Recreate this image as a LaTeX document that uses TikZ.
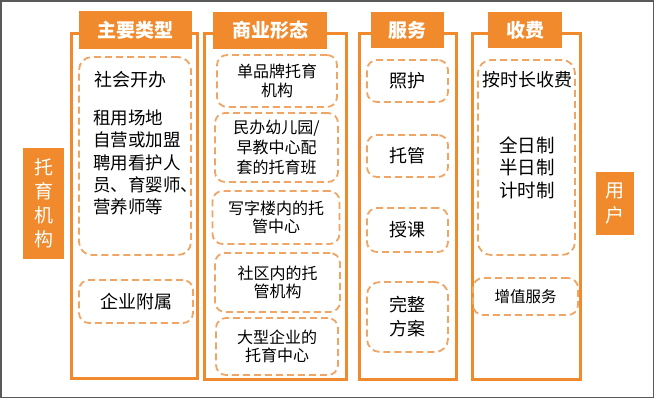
\documentclass[tikz,border=0pt]{standalone}
\usepackage{fontspec}
\usetikzlibrary{positioning}
\newfontfamily\cjk{Noto Sans CJK SC}
\definecolor{tuoOrange}{RGB}{240,138,45}
\definecolor{dashOrange}{RGB}{240,165,100}
\tikzset{
  colframe/.style={draw=tuoOrange, line width=3pt},
  header/.style={fill=tuoOrange, text=white, inner sep=0pt, font=\cjk\bfseries\fontsize{19}{22}\selectfont},
  sidetag/.style={fill=tuoOrange, text=white, inner sep=0pt, align=center, font=\cjk\fontsize{19}{24}\selectfont},
  dbox/.style={draw=dashOrange, line width=1.8pt, dash pattern=on 7pt off 4pt, rounded corners=10pt, inner sep=0pt, align=center},
  txtL/.style={inner sep=0pt, font=\cjk\fontsize{18}{22.3}\selectfont},
  txtM/.style={font=\cjk\fontsize{16}{18.5}\selectfont},
  txtS/.style={font=\cjk\fontsize{15.5}{18}\selectfont},
}
\begin{document}
\begin{tikzpicture}[x=1pt, y=-1pt]
  \useasboundingbox (0,0) rectangle (655,400);
  % outer border
  \draw[gray!70!black, line width=1.5pt] (0.75,0.75) rectangle (653.5,397.5);

  % column frames
  \draw[colframe] (71,33) rectangle (197,378);
  \draw[colframe] (204,33) rectangle (346,379);
  \draw[colframe] (359,33) rectangle (456,379);
  \draw[colframe] (472,33) rectangle (580,379);

  % headers
  \node[header, minimum width=113pt, minimum height=38pt] (hType) at (135.5,30) {主要类型};
  \node[header, minimum width=114pt, minimum height=37pt] (hForm) at (270,30.5) {商业形态};
  \node[header, minimum width=73pt, minimum height=36pt] (hServ) at (407.5,30) {服务};
  \node[header, minimum width=74pt, minimum height=36pt] (hFee) at (525,30) {收费};

  % side tags
  \node[sidetag, minimum width=41pt, minimum height=111pt] (org) at (43.5,203.5) {托\\育\\机\\构};
  \node[sidetag, minimum width=38pt, minimum height=63pt, font=\cjk\fontsize{19}{25}\selectfont] (user) at (615,203.5) {用\\户};

  % 主要类型
  \node[dbox, rounded corners=13pt, minimum width=112pt, minimum height=198pt] (social) at (135,156) {};
  \node[txtL, anchor=west] (socialT) at (94,80) {社会开办};
  \node[txtL, anchor=west, align=left, font=\cjk\fontsize{17.5}{22.3}\selectfont] (socialL) at (93,162.5)
    {租用场地\\自营或加盟\\聘用看护人\\员、育婴师、\\营养师等};
  \node[dbox, txtL, minimum width=114pt, minimum height=43pt] (corp) at (136,301.5) {企业附属};

  % 商业形态
  \node[dbox, txtM, minimum width=120pt, minimum height=52pt] (brand) at (277,81) {单品牌托育\\机构};
  \node[dbox, txtM, minimum width=123pt, minimum height=69pt, font=\cjk\fontsize{16}{20}\selectfont] (kinder) at (276.5,147.5) {民办幼儿园/\\早教中心配\\套的托育班};
  \node[dbox, txtM, minimum width=127pt, minimum height=53pt] (office) at (276,217.5) {写字楼内的托\\管中心};
  \node[dbox, txtM, minimum width=125pt, minimum height=59pt] (commu) at (277.5,282.5) {社区内的托\\管机构};
  \node[dbox, txtM, minimum width=122pt, minimum height=57pt] (bigco) at (277,346.5) {大型企业的\\托育中心};

  % 服务
  \node[dbox, txtL, minimum width=81pt, minimum height=42pt] (care) at (407.5,81) {照护};
  \node[dbox, txtL, minimum width=81pt, minimum height=42pt] (mind) at (407.5,156) {托管};
  \node[dbox, txtL, minimum width=81pt, minimum height=44pt] (teach) at (407.5,230) {授课};
  \node[dbox, txtL, rounded corners=13pt, minimum width=81pt, minimum height=70pt, font=\cjk\fontsize{18}{24}\selectfont] (plan) at (407.5,317) {完整\\方案};

  % 收费
  \node[dbox, rounded corners=13pt, minimum width=97pt, minimum height=195pt] (hourly) at (526.5,157.5) {};
  \node[txtL] (hourlyT) at (527,80) {按时长收费};
  \node[txtL, align=center, font=\cjk\fontsize{18.5}{22.5}\selectfont] (hourlyL) at (527,167.5) {全日制\\半日制\\计时制};
  \node[dbox, txtS, minimum width=105pt, minimum height=37pt] (extra) at (525.5,296.5) {增值服务};
\end{tikzpicture}
\end{document}
